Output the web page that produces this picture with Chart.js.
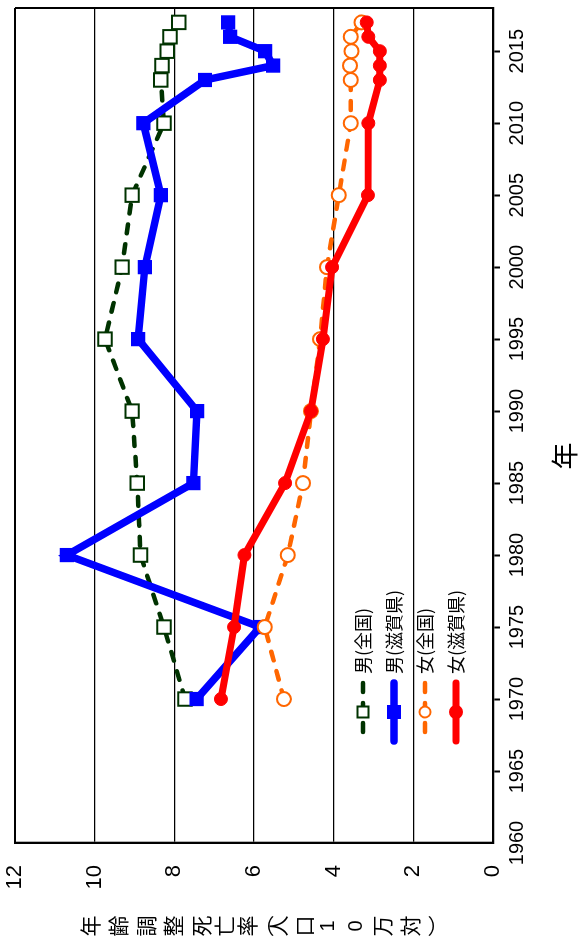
<!DOCTYPE html>
<html><head><meta charset="utf-8">
<script src="https://cdn.jsdelivr.net/npm/chart.js@4.4.1/dist/chart.umd.min.js"></script>
<style>
html,body{margin:0;padding:0;background:#fff;width:579px;height:940px;overflow:hidden}
#wrap{position:absolute;left:0;top:0;width:940px;height:579px;transform-origin:0 0;transform:translateY(940px) rotate(-90deg);background:#fff}
canvas{display:block}
</style></head><body>
<div id="wrap"><canvas id="c" width="940" height="579" style="width:940px;height:579px"></canvas></div>
<script>
// ---- data ----
const years = [1970, 1975, 1980, 1985, 1990, 1995, 2000, 2005, 2010, 2013, 2014, 2015, 2016, 2017];
const maleNational   = [7.73, 8.26, 8.85, 8.93, 9.06, 9.74, 9.31, 9.06, 8.26, 8.34, 8.31, 8.18, 8.11, 7.89];
const maleShiga      = [7.44, 5.85, 10.70, 7.52, 7.43, 8.91, 8.74, 8.34, 8.78, 7.23, 5.52, 5.72, 6.60, 6.65];
const femaleNational = [5.25, 5.73, 5.15, 4.77, 4.57, 4.34, 4.17, 3.87, 3.57, 3.57, 3.59, 3.55, 3.57, 3.30];
const femaleShiga    = [6.83, 6.50, 6.24, 5.22, 4.57, 4.27, 4.04, 3.14, 3.13, 2.84, 2.84, 2.84, 3.13, 3.17];
const seriesLabels = ['男(全国)', '男(滋賀県)', '女(全国)', '女(滋賀県)'];
const xTitle = '年';
const yTitleChars = ['年','齢','調','整','死','亡','率','︵','人','口','1','0','万','対','︶'];
const yearMin = 1960, yearMax = 2018, yearStep = 5;
const valMin = 0, valMax = 12, valStep = 2;

const pts = arr => arr.map((v, i) => ({x: years[i], y: v}));
const JP = '"Noto Sans CJK JP", "Liberation Sans", sans-serif';
const LAT = '"Liberation Sans", Arial, sans-serif';

const datasets = [
  {label: seriesLabels[0], data: pts(maleNational), borderColor: '#003300', backgroundColor: '#ffffff',
   borderWidth: 4.5, borderDash: [9, 11], borderCapStyle: 'round', pointStyle: 'rect', pointRadius: 9.5,
   pointBorderWidth: 2, pointBorderColor: '#003300', pointBackgroundColor: '#ffffff', order: 3,
   legW: 4.5, legMarker: 'rect', legSize: 11, legFill: '#ffffff'},
  {label: seriesLabels[1], data: pts(maleShiga), borderColor: '#0000ff', backgroundColor: '#0000ff',
   borderWidth: 7.5, pointStyle: 'rect', pointRadius: 9, pointBorderWidth: 1.5,
   pointBorderColor: '#0000ff', pointBackgroundColor: '#0000ff', order: 2,
   legW: 7.5, legMarker: 'rect', legSize: 12, legFill: '#0000ff'},
  {label: seriesLabels[2], data: pts(femaleNational), borderColor: '#ff6600', backgroundColor: '#ffffff',
   borderWidth: 4.5, borderDash: [9, 11], borderCapStyle: 'round', pointStyle: 'circle', pointRadius: 7,
   pointBorderWidth: 2, pointBorderColor: '#ff6600', pointBackgroundColor: '#ffffff', order: 1,
   legW: 4.5, legMarker: 'circle', legSize: 11, legFill: '#ffffff'},
  {label: seriesLabels[3], data: pts(femaleShiga), borderColor: '#ff0000', backgroundColor: '#ff0000',
   borderWidth: 7, pointStyle: 'circle', pointRadius: 6.5, pointBorderWidth: 1,
   pointBorderColor: '#ff0000', pointBackgroundColor: '#ff0000', order: 0,
   legW: 7, legMarker: 'circle', legSize: 12, legFill: '#ff0000'}
];

const framePlugin = {
  id: 'frame',
  beforeDatasetsDraw(chart) {
    const {ctx, chartArea: a} = chart;
    ctx.save();
    ctx.strokeStyle = '#000';
    ctx.lineWidth = 2;
    ctx.beginPath();
    ctx.moveTo(a.right, a.top); ctx.lineTo(a.right, a.bottom);
    ctx.moveTo(a.left, a.top); ctx.lineTo(a.right, a.top);
    ctx.stroke();
    ctx.restore();
  }
};

const textPlugin = {
  id: 'texts',
  afterDraw(chart) {
    const ctx = chart.ctx;
    ctx.save();
    ctx.fillStyle = '#000';
    // x-axis title
    ctx.font = '27px ' + JP;
    ctx.textAlign = 'center'; ctx.textBaseline = 'middle';
    ctx.fillText(xTitle, 484, 565);
    // y-axis title (vertical writing)
    const ys = [90,118,146,173,201,224,247,263,278,304,328,356,382,410,438];
    yTitleChars.forEach((ch, i) => {
      ctx.font = (/[0-9]/.test(ch) ? '20px ' + LAT : '21px ' + JP);
      ctx.fillText(ch, 14, ys[i]);
    });
    // legend
    chart.data.datasets.forEach((ds, i) => {
      const y = 363 + i * 31;
      ctx.save();
      ctx.strokeStyle = ds.borderColor;
      ctx.lineWidth = ds.legW;
      ctx.lineCap = 'round';
      ctx.setLineDash(ds.borderDash || []);
      ctx.beginPath(); ctx.moveTo(257, y); ctx.lineTo(199, y); ctx.stroke();
      ctx.setLineDash([]);
      const s = ds.legSize, mx = 228;
      ctx.fillStyle = ds.legFill;
      ctx.lineWidth = 2;
      ctx.beginPath();
      if (ds.legMarker === 'rect') ctx.rect(mx - s/2, y - s/2, s, s);
      else ctx.arc(mx, y, s/2, 0, Math.PI * 2);
      ctx.fill(); ctx.stroke();
      ctx.fillStyle = '#000';
      ctx.font = '18px ' + JP;
      ctx.textAlign = 'left'; ctx.textBaseline = 'middle';
      ctx.fillText(ds.label, 266, y);
      ctx.restore();
    });
    ctx.restore();
  }
};

new Chart(document.getElementById('c'), {
  type: 'line',
  data: {datasets},
  options: {
    responsive: false, animation: false, devicePixelRatio: 1,
    layout: {padding: {top: 15, right: 8, bottom: 0, left: 0}, autoPadding: false},
    plugins: {legend: {display: false}, tooltip: {enabled: false}},
    elements: {line: {tension: 0}},
    scales: {
      x: {
        type: 'linear', position: 'bottom', min: yearMin, max: yearMax,
        afterFit: s => { s.height = 86; s.paddingLeft = 0; s.paddingRight = 0; },
        ticks: {stepSize: yearStep, includeBounds: false, autoSkip: false, maxRotation: 0, minRotation: 0,
                padding: 5, color: '#000', font: {family: LAT, size: 20},
                callback: v => String(v)},
        grid: {drawOnChartArea: false, drawTicks: true, tickLength: 7, tickWidth: 2,
               tickColor: c => (c.tick && c.tick.value === yearMin) ? 'rgba(0,0,0,0)' : '#000'},
        border: {display: true, color: '#000', width: 2.3},
        title: {display: false}
      },
      y: {
        type: 'linear', position: 'left', min: valMin, max: valMax,
        afterFit: s => { s.width = 97; s.paddingTop = 0; s.paddingBottom = 0; },
        ticks: {stepSize: valStep, padding: 22, color: '#000', font: {family: LAT, size: 22}},
        grid: {drawOnChartArea: true, drawTicks: false, color: '#000', lineWidth: 1.3},
        border: {display: true, color: '#000', width: 2.3},
        title: {display: false}
      }
    }
  },
  plugins: [framePlugin, textPlugin]
});
</script>
</body></html>
